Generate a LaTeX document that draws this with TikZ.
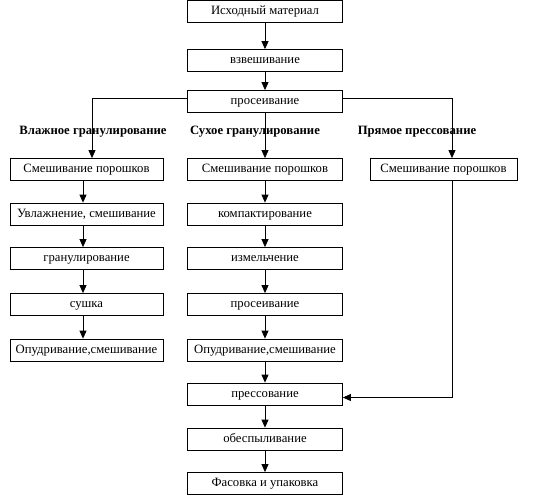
\documentclass[tikz,border=0pt]{standalone}
\usepackage{fontspec}
\setmainfont{Liberation Serif}
\usetikzlibrary{arrows.meta}
\begin{document}
\begin{tikzpicture}[x=1pt,y=1pt,
  box/.style={draw=black, line width=0.8pt, rectangle, minimum height=22pt, inner sep=0pt, text height=9pt, text depth=2.5pt, font=\fontsize{12.7}{14}\selectfont, fill=white},
  lbl/.style={font=\fontsize{12.7}{14}\selectfont\bfseries, inner sep=0pt},
  conn/.style={draw=black, line width=0.8pt, -{Triangle[length=8pt,width=7pt]}},
  plain/.style={draw=black, line width=0.8pt}]
\useasboundingbox (0,0) rectangle (533,-498);
% labels
\node[lbl] (lw) at (93,-132) {Влажное гранулирование};
\node[lbl] (ld) at (255,-132) {Сухое гранулирование};
\node[lbl] (lp) at (417,-132) {Прямое прессование};
% middle column
\node[box, minimum width=155pt] (m0) at (265,-11.5) {Исходный материал};
\node[box, minimum width=155pt] (m1) at (265,-60.5) {взвешивание};
\node[box, minimum width=155pt] (m2) at (265,-101.5) {просеивание};
\node[box, minimum width=155pt] (m3) at (265,-169.5) {Смешивание порошков};
\node[box, minimum width=155pt] (m4) at (265,-214) {компактирование};
\node[box, minimum width=155pt] (m5) at (265,-258.5) {измельчение};
\node[box, minimum width=155pt] (m6) at (265,-304.5) {просеивание};
\node[box, minimum width=155pt] (m7) at (265,-350) {Опудривание,смешивание};
\node[box, minimum width=155pt] (m8) at (265,-394) {прессование};
\node[box, minimum width=155pt] (m9) at (265,-439) {обеспыливание};
\node[box, minimum width=155pt] (m10) at (265,-483.5) {Фасовка и упаковка};
% left column
\node[box, minimum width=153pt] (w1) at (86.5,-169.5) {Смешивание порошков};
\node[box, minimum width=153pt] (w2) at (86.5,-214) {Увлажнение, смешивание};
\node[box, minimum width=153pt] (w3) at (86.5,-258.5) {гранулирование};
\node[box, minimum width=153pt] (w4) at (86.5,-304.5) {сушка};
\node[box, minimum width=153pt] (w5) at (86.5,-350) {Опудривание,смешивание};
% right column
\node[box, minimum width=147pt] (p1) at (443.5,-169.5) {Смешивание порошков};
% middle connectors
\foreach \a/\b in {m0/m1,m1/m2,m2/m3,m3/m4,m4/m5,m5/m6,m6/m7,m7/m8,m8/m9,m9/m10}
  \draw[conn] (\a) -- (\b);
% left connectors
\draw[conn] ([yshift=3.5pt]m2.west) -| ([xshift=5.5pt]w1.north);
\foreach \a/\b in {w1/w2,w2/w3,w3/w4,w4/w5}
  \draw[conn] ([xshift=-3.5pt]\a.south) -- ([xshift=-3.5pt]\b.north);
% right connectors
\draw[conn] ([yshift=3.5pt]m2.east) -| ([xshift=8.5pt]p1.north);
\draw[conn] ([xshift=8.5pt]p1.south) |- ([yshift=-3.5pt]m8.east);
\end{tikzpicture}
\end{document}
